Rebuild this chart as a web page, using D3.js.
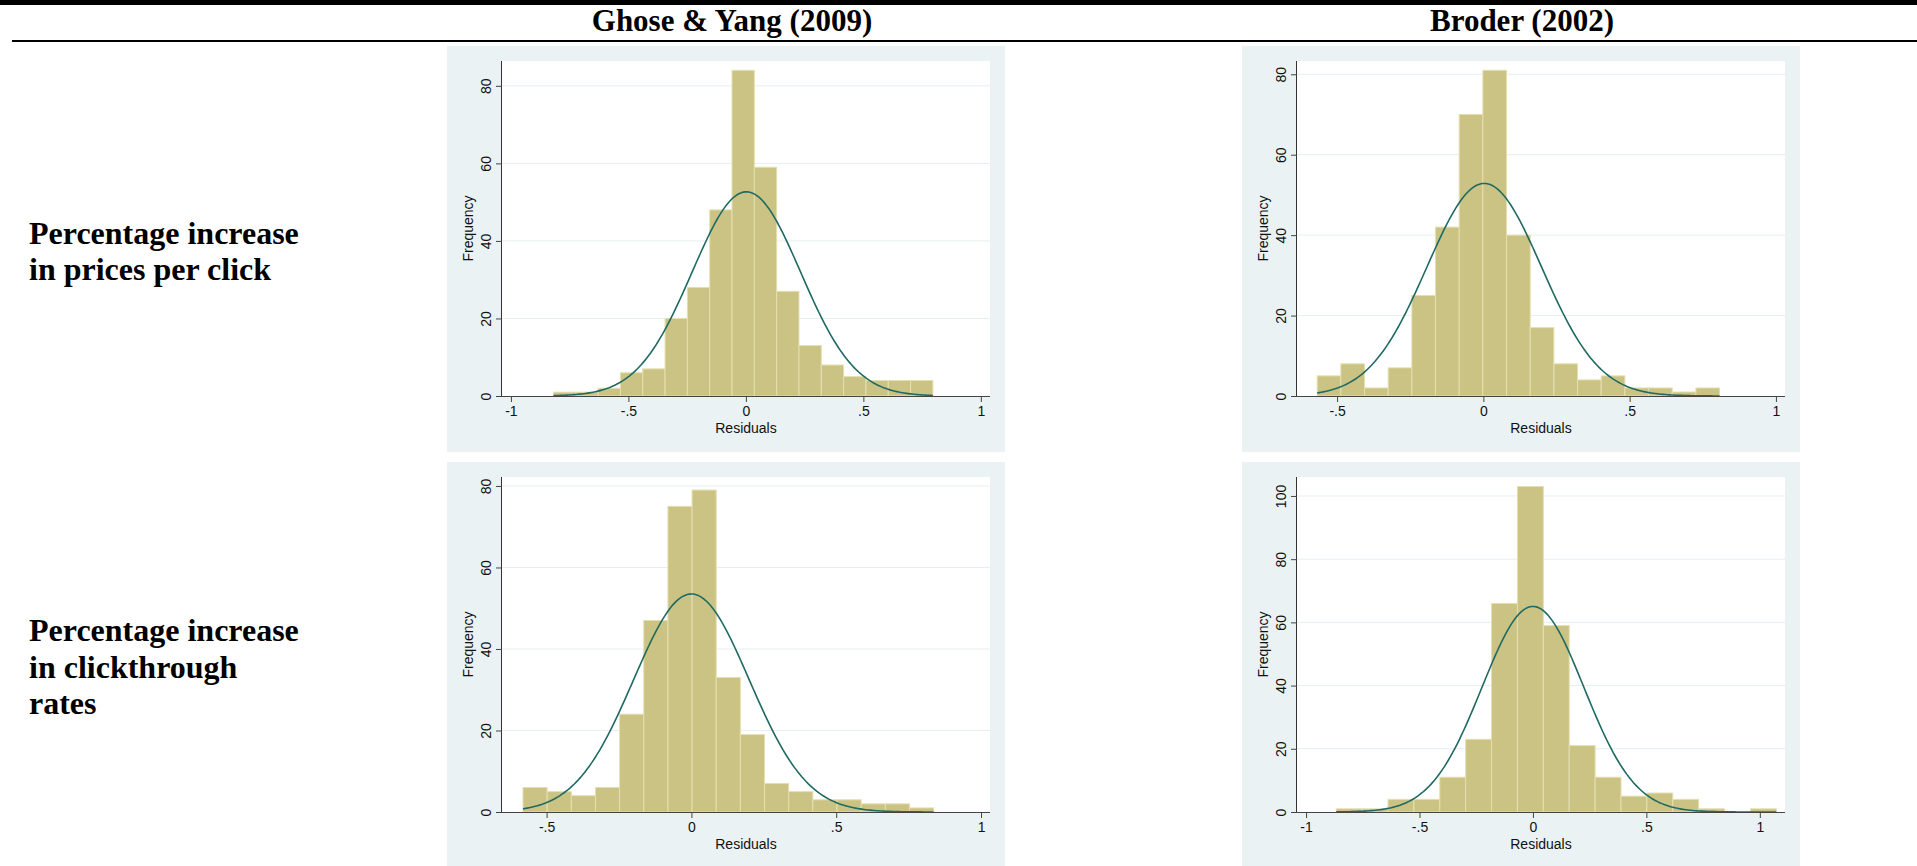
<!DOCTYPE html>
<html>
<head>
<meta charset="utf-8">
<script src="https://cdn.jsdelivr.net/npm/d3@7"></script>
<style>
  body { margin: 0; background: #fff; }
  svg { display: block; }
</style>
</head>
<body>
<svg width="1917" height="866"></svg>
<script>
// column / row headers of the table
var colLabels = ["Ghose & Yang (2009)", "Broder (2002)"];
var rowLabels = [["Percentage increase", "in prices per click"],
                 ["Percentage increase", "in clickthrough", "rates"]];

// histogram frequencies, one array per panel (row major)
var countsGhosePrice = [1, 1, 2, 6, 7, 20, 28, 48, 84, 59, 27, 13, 8, 5, 4, 4, 4];
var countsBroderPrice = [5, 8, 2, 7, 25, 42, 70, 81, 40, 17, 8, 4, 5, 2, 2, 1, 2];
var countsGhoseCtr = [6, 5, 4, 6, 24, 47, 75, 79, 33, 19, 7, 5, 3, 3, 2, 2, 1];
var countsBroderCtr = [1, 1, 4, 4, 11, 23, 66, 103, 59, 21, 11, 5, 6, 4, 1, 0, 1];
var allCounts = [countsGhosePrice, countsBroderPrice, countsGhoseCtr, countsBroderCtr];

var binStart = [-0.819, -0.568, -0.5815, -0.867];
var binWidth = [0.095, 0.0809, 0.0834, 0.1141];
// fitted normal (mean, sd of residuals)
var resMean = [0.002, 0.003, 0.0, 0.0];
var resSd = [0.231, 0.196, 0.1996, 0.2246];

var xTicks = [[-1, -.5, 0, .5, 1], [-.5, 0, .5, 1], [-.5, 0, .5, 1], [-1, -.5, 0, .5, 1]];
var yTicks = [[0, 20, 40, 60, 80], [0, 20, 40, 60, 80], [0, 20, 40, 60, 80], [0, 20, 40, 60, 80, 100]];
var xDomains = [[-1.038, 1.039], [-0.637, 1.031], [-0.654, 1.031], [-1.040, 1.111]];
var yMax = [86.4, 83.3, 82.2, 106];

var svg = d3.select("svg");
var serif = "'Liberation Serif','Times New Roman',serif";
var sans = "'Liberation Sans',Arial,Helvetica,sans-serif";

// table rules
svg.append("rect").attr("x", 0).attr("y", 0).attr("width", 1917).attr("height", 5).style("fill", "#000");
svg.append("rect").attr("x", 12).attr("y", 40).attr("width", 1905).attr("height", 2).style("fill", "#000");

var colCenter = [732, 1522];
svg.append("g").selectAll("text").data(colLabels)
  .enter().append("text")
  .attr("x", function(d, i) { return colCenter[i] })
  .attr("y", 31)
  .style("text-anchor", "middle")
  .style("font", "bold 31px " + serif)
  .text(function(d) { return d });

var rowTop = [243.5, 641];
rowLabels.forEach(function(lines, r) {
  svg.append("text")
    .attr("x", 29)
    .attr("y", rowTop[r])
    .style("font", "bold 32px " + serif)
    .selectAll("tspan").data(lines)
    .enter().append("tspan")
    .attr("x", 29)
    .attr("dy", function(d, i) { return i == 0 ? 0 : 36.5 })
    .text(function(d) { return d });
});

var fmt = function(d) {
  if (d == 0) return "0";
  return String(d).replace("0.", ".");
};

var colX = [447, 1242], rowY = [46, 462];

allCounts.forEach(function(counts, p) {
  var row = Math.floor(p / 2), col = p % 2;
  var bx = colX[col], by = rowY[row];
  var g = svg.append("g");

  g.append("rect").attr("x", bx).attr("y", by).attr("width", 558).attr("height", 406)
    .style("fill", "#eaf2f3");

  var left = bx + 55, right = left + 488, top = by + 15, bottom = by + 350;
  g.append("rect").attr("x", left).attr("y", top).attr("width", right - left).attr("height", bottom - top)
    .style("fill", "#fff");

  var x = d3.scaleLinear().domain(xDomains[p]).range([left, right]);
  var y = d3.scaleLinear().domain([0, yMax[p]]).range([bottom, top]);

  // grid
  g.append("g").selectAll("line").data(yTicks[p].filter(function(d) { return d > 0 }))
    .enter().append("line")
    .attr("x1", left).attr("x2", right)
    .attr("y1", function(d) { return y(d) }).attr("y2", function(d) { return y(d) })
    .style("stroke", "#e6eef0").style("stroke-width", 1);

  // bars
  var w = binWidth[p], s = binStart[p];
  var bars = counts.map(function(c, i) { return { c: c, x0: s + i * w, x1: s + (i + 1) * w } })
    .filter(function(d) { return d.c > 0 });
  g.append("g").selectAll("rect").data(bars)
    .enter().append("rect")
    .attr("x", function(d) { return x(d.x0) })
    .attr("width", function(d) { return x(d.x1) - x(d.x0) })
    .attr("y", function(d) { return y(d.c) })
    .attr("height", function(d) { return y(0) - y(d.c) })
    .style("fill", "#cbc383")
    .style("stroke", "#e4dfb1")
    .style("stroke-width", 1);

  // normal density scaled to frequency
  var n = d3.sum(counts);
  var mu = resMean[p], sd = resSd[p];
  var xs = d3.range(0, 201).map(function(k) { return s + k * (counts.length * w) / 200 });
  var line = d3.line()
    .x(function(v) { return x(v) })
    .y(function(v) {
      var z = (v - mu) / sd;
      return y(n * w * Math.exp(-0.5 * z * z) / (sd * Math.sqrt(2 * Math.PI)));
    });
  g.append("path").datum(xs).attr("d", line)
    .style("fill", "none").style("stroke", "#1f6a62").style("stroke-width", 1.6);

  // axes
  var xAxis = d3.axisBottom(x).tickValues(xTicks[p]).tickSize(6).tickPadding(4).tickFormat(fmt);
  var xg = g.append("g").attr("transform", "translate(0," + bottom + ")").call(xAxis);
  xg.select(".domain").attr("d", "M" + left + ",0.5H" + right).style("stroke", "#444");
  xg.selectAll(".tick line").style("stroke", "#444");
  xg.selectAll("text").style("font", "14px " + sans).style("fill", "#111");

  var yAxis = d3.axisLeft(y).tickValues(yTicks[p]).tickSize(6).tickFormat(d3.format("d"));
  var yg = g.append("g").attr("transform", "translate(" + left + ",0)").call(yAxis);
  yg.select(".domain").attr("d", "M-0.5," + top + "V" + bottom).style("stroke", "#333");
  yg.selectAll(".tick line").style("stroke", "#444");
  yg.selectAll("text")
    .attr("x", 0).attr("dy", 0)
    .attr("transform", "translate(-11,0) rotate(-90)")
    .style("text-anchor", "middle")
    .style("font", "14px " + sans).style("fill", "#111");

  g.append("text")
    .attr("x", (left + right) / 2).attr("y", bottom + 37)
    .style("text-anchor", "middle")
    .style("font", "14px " + sans).style("fill", "#111")
    .text("Residuals");
  g.append("text")
    .attr("transform", "translate(" + (left - 29) + "," + ((top + bottom) / 2) + ") rotate(-90)")
    .style("text-anchor", "middle")
    .style("font", "14px " + sans).style("fill", "#111")
    .text("Frequency");
});
</script>
</body>
</html>
